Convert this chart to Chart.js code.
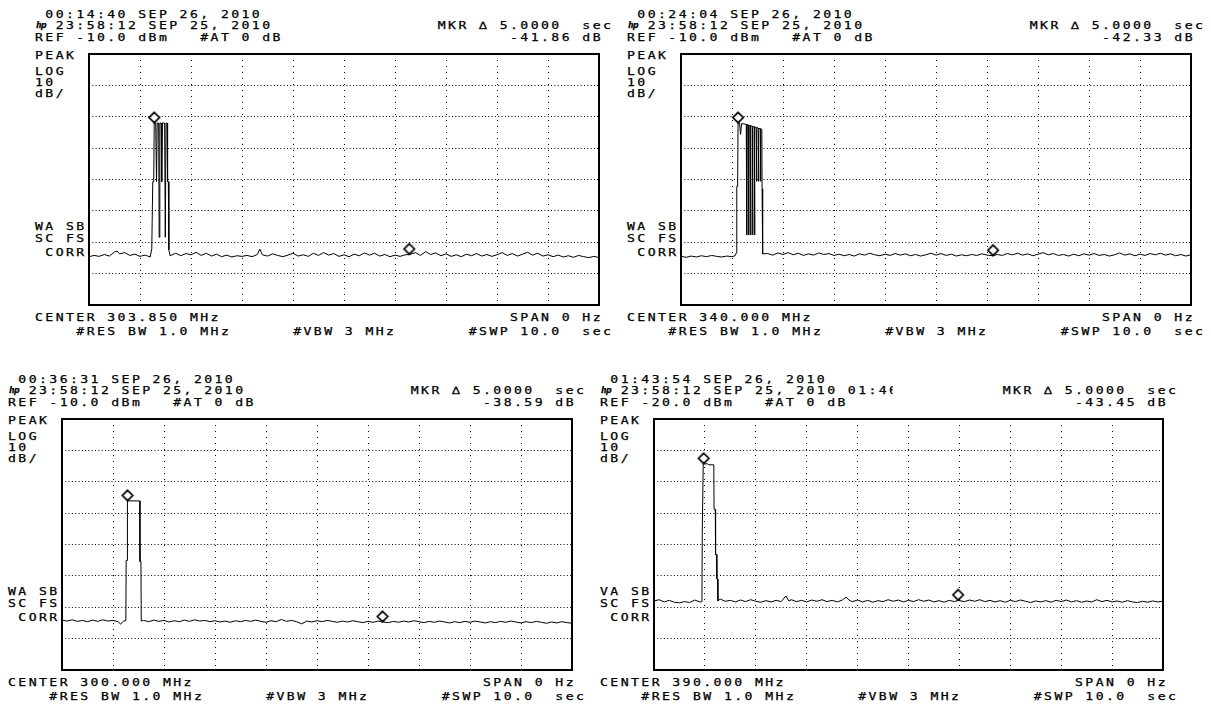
<!DOCTYPE html>
<html>
<head>
<meta charset="utf-8">
<script src="https://cdn.jsdelivr.net/npm/chart.js@4.4.1/dist/chart.umd.min.js"></script>
<style>
  html, body { margin: 0; padding: 0; background: #fff; }
  body { width: 1211px; height: 706px; position: relative; overflow: hidden; }
  .txt {
    position: absolute;
    font-family: "DejaVu Sans Mono", monospace;
    font-size: 10.5px;
    line-height: 12px;
    letter-spacing: 1.94px;
    white-space: pre;
    color: #000;
    -webkit-text-stroke: 0.25px #000;
    transform: scaleX(1.25);
    transform-origin: 0 50%;
  }
  .txt.hp { font-style: italic; font-weight: bold; font-size: 8.5px; letter-spacing: -0.5px; transform: scaleX(1.1); }
  canvas { position: absolute; }
</style>
</head>
<body>
<script>
// --- readouts (one entry per screen: top-left, top-right, bottom-left, bottom-right)
const startStamps = ['00:14:40 SEP 26, 2010', '00:24:04 SEP 26, 2010', '00:36:31 SEP 26, 2010', '01:43:54 SEP 26, 2010'];
const refStamp = '23:58:12 SEP 25, 2010';
const refLevels = [-10, -10, -10, -20];          // dBm, top graticule line
const deltaReadouts = ['-41.86', '-42.33', '-38.59', '-43.45'];
const centerFreqs = ['303.850', '340.000', '300.000', '390.000'];
const sideTags = ['WA SB', 'WA SB', 'WA SB', 'VA SB'];

// marker pairs: [marker, delta marker] (sec, dBm)
const markerTimes = [[1.28, 6.28], [1.12, 6.12], [1.285, 6.285], [0.975, 5.975]];
const markerLevels = [[-32.0, -73.9], [-32.0, -74.3], [-36.1, -74.7], [-34.3, -77.8]];

// zero-span traces, [sec, dBm]
const trace1 = [
  [0,-74.6],[0.1,-74.2],[0.2,-74.5],[0.3,-73.9],[0.4,-74.4],[0.5,-73.1],[0.55,-72.8],[0.6,-73.7],[0.7,-73.3],[0.8,-74.2],
  [0.9,-73.8],[1.0,-74.5],[1.1,-74.1],[1.2,-74.7],
  [1.231,-72.1],[1.25,-50.7],[1.269,-50.7],[1.279,-32.0],[1.308,-32.0],[1.324,-50.7],[1.337,-32.0],[1.366,-32.0],
  [1.376,-68.4],[1.389,-32.0],[1.415,-32.0],[1.426,-50.7],[1.44,-32.0],[1.483,-32.0],[1.496,-68.4],[1.51,-32.0],
  [1.531,-32.0],[1.541,-50.7],[1.556,-50.7],[1.566,-72.4],[1.59,-74.3],
  [1.7,-73.5],[1.8,-74.3],[1.9,-73.6],[2.0,-74.0],[2.1,-73.2],[2.2,-74.2],[2.3,-73.5],[2.4,-74.4],[2.5,-73.8],[2.6,-74.6],
  [2.7,-74.1],[2.8,-74.7],[2.9,-74.3],[3.0,-74.5],[3.1,-74.2],[3.2,-74.6],[3.3,-73.9],[3.35,-72.2],[3.4,-74.0],[3.5,-74.4],
  [3.6,-73.7],[3.7,-74.2],[3.8,-74.6],[3.9,-74.1],[4.0,-73.5],[4.1,-74.4],[4.2,-74.0],[4.3,-74.5],[4.4,-73.5],[4.5,-74.2],
  [4.6,-73.3],[4.7,-74.1],[4.8,-73.6],[4.9,-74.5],[5.0,-74.0],[5.1,-74.6],[5.2,-73.8],[5.3,-74.3],[5.4,-73.4],[5.5,-74.1],
  [5.6,-73.5],[5.7,-74.4],[5.8,-73.9],[5.9,-74.6],[6.0,-74.1],[6.1,-74.5],[6.2,-74.0],[6.28,-73.9],[6.4,-73.3],[6.5,-74.2],
  [6.6,-73.0],[6.7,-73.9],[6.8,-73.4],[6.9,-74.3],[7.0,-73.7],[7.1,-74.5],[7.2,-74.0],[7.3,-74.6],[7.4,-73.8],[7.5,-74.3],
  [7.6,-73.6],[7.7,-74.4],[7.8,-73.9],[7.9,-74.5],[8.0,-74.0],[8.1,-73.3],[8.2,-74.2],[8.3,-73.6],[8.4,-74.4],[8.5,-73.8],
  [8.6,-73.2],[8.7,-74.1],[8.8,-73.5],[8.9,-74.4],[9.0,-74.0],[9.1,-74.6],[9.2,-74.1],[9.3,-74.7],[9.4,-74.3],[9.5,-74.8],
  [9.6,-74.2],[9.7,-74.6],[9.8,-74.9],[9.9,-74.5],[10.0,-74.9]
];
const trace2 = [
  [0,-74.5],[0.1,-74.8],[0.2,-74.4],[0.3,-74.7],[0.4,-74.3],[0.5,-74.6],[0.6,-74.2],[0.7,-74.5],[0.8,-74.7],[0.9,-74.4],
  [1.0,-74.6],[1.06,-74.3],
  [1.084,-73.4],[1.094,-52.2],[1.11,-52.2],[1.119,-32.0],[1.148,-32.0],[1.168,-35.6],[1.187,-32.2],[1.28,-32.4],
  [1.288,-67.7],[1.296,-32.5],[1.32,-32.6],[1.327,-67.7],[1.334,-32.7],[1.36,-32.8],[1.366,-67.7],[1.372,-32.9],
  [1.4,-33.0],[1.405,-67.7],[1.41,-33.1],[1.438,-33.2],[1.443,-67.7],[1.448,-33.3],[1.476,-33.4],[1.482,-50.6],
  [1.488,-33.5],[1.515,-33.6],[1.521,-50.6],[1.527,-33.7],[1.555,-33.8],[1.56,-50.6],[1.566,-33.9],[1.585,-34.0],
  [1.59,-53.0],[1.598,-53.0],[1.604,-73.7],
  [1.7,-73.6],[1.8,-74.1],[1.9,-73.4],[2.0,-73.9],[2.1,-73.3],[2.2,-74.0],[2.3,-73.5],[2.4,-74.2],[2.5,-73.7],[2.6,-74.1],
  [2.7,-73.4],[2.8,-73.9],[2.9,-73.6],[3.0,-74.2],[3.1,-73.8],[3.2,-74.3],[3.3,-73.9],[3.4,-74.4],[3.5,-73.7],[3.6,-74.1],
  [3.7,-73.5],[3.8,-74.0],[3.9,-74.3],[4.0,-73.8],[4.1,-74.2],[4.2,-73.6],[4.3,-74.1],[4.4,-73.7],[4.5,-74.3],[4.6,-73.9],
  [4.7,-74.4],[4.8,-74.0],[4.9,-73.5],[5.0,-74.1],[5.1,-73.6],[5.2,-74.2],[5.3,-73.8],[5.4,-74.4],[5.5,-74.0],[5.6,-74.3],
  [5.7,-73.9],[5.8,-74.2],[5.9,-73.7],[6.0,-74.1],[6.12,-74.3],[6.2,-73.9],[6.3,-74.2],[6.4,-73.6],[6.5,-74.0],[6.6,-73.5],
  [6.7,-74.1],[6.8,-73.7],[6.9,-74.3],[7.0,-73.8],[7.1,-73.3],[7.2,-74.0],[7.3,-73.6],[7.4,-74.2],[7.5,-73.9],[7.6,-74.4],
  [7.7,-73.8],[7.8,-74.3],[7.9,-73.7],[8.0,-74.1],[8.1,-73.6],[8.2,-74.2],[8.3,-73.9],[8.4,-74.4],[8.5,-74.0],[8.6,-73.4],
  [8.7,-74.1],[8.8,-73.7],[8.9,-74.3],[9.0,-73.8],[9.1,-74.2],[9.2,-73.6],[9.3,-74.0],[9.4,-73.5],[9.5,-74.1],[9.6,-73.7],
  [9.7,-74.3],[9.8,-73.9],[9.9,-74.4],[10.0,-74.0]
];
const trace3 = [
  [0,-74.1],[0.1,-74.4],[0.2,-74.0],[0.3,-74.5],[0.4,-74.2],[0.5,-74.6],[0.6,-74.1],[0.7,-74.5],[0.8,-74.0],[0.9,-74.4],
  [1.0,-74.2],[1.1,-74.6],[1.15,-75.4],[1.2,-74.5],[1.233,-74.3],
  [1.252,-74.3],[1.258,-55.1],[1.277,-55.1],[1.283,-36.1],[1.523,-36.1],[1.529,-55.4],[1.548,-55.4],[1.554,-74.4],
  [1.6,-74.2],[1.7,-74.6],[1.8,-74.1],[1.9,-74.5],[2.0,-74.2],[2.1,-74.7],[2.2,-74.3],[2.3,-74.6],[2.4,-74.1],[2.5,-74.5],
  [2.6,-74.0],[2.7,-74.4],[2.8,-74.2],[2.9,-74.6],[3.0,-74.3],[3.1,-74.7],[3.2,-74.4],[3.3,-74.8],[3.4,-74.3],[3.5,-74.6],
  [3.6,-74.2],[3.7,-74.5],[3.8,-74.1],[3.9,-74.5],[4.0,-74.8],[4.1,-74.3],[4.2,-74.6],[4.3,-73.9],[4.4,-74.5],[4.5,-74.2],
  [4.6,-74.6],[4.7,-75.3],[4.8,-74.4],[4.9,-74.7],[5.0,-74.3],[5.1,-74.6],[5.2,-74.2],[5.3,-74.5],[5.4,-74.8],[5.5,-74.4],
  [5.6,-74.7],[5.7,-74.3],[5.8,-74.6],[5.9,-74.9],[6.0,-74.5],[6.1,-74.8],[6.2,-74.4],[6.285,-74.7],[6.4,-74.9],[6.5,-74.5],
  [6.6,-74.8],[6.7,-74.4],[6.8,-74.7],[6.9,-74.3],[7.0,-74.6],[7.1,-74.9],[7.2,-74.5],[7.3,-74.8],[7.4,-74.4],[7.5,-74.7],
  [7.6,-75.0],[7.7,-74.6],[7.8,-74.9],[7.9,-74.5],[8.0,-74.8],[8.1,-74.4],[8.2,-74.7],[8.3,-75.0],[8.4,-74.6],[8.5,-74.9],
  [8.6,-74.5],[8.7,-74.8],[8.8,-74.4],[8.9,-74.7],[9.0,-75.0],[9.1,-74.6],[9.2,-74.9],[9.3,-74.5],[9.4,-74.8],[9.5,-75.1],
  [9.6,-74.7],[9.7,-75.0],[9.8,-74.6],[9.9,-74.9],[10.0,-75.1]
];
const trace4 = [
  [0,-78.0],[0.1,-77.6],[0.2,-78.3],[0.3,-77.8],[0.4,-78.4],[0.5,-78.6],[0.6,-78.2],[0.7,-78.5],[0.8,-77.7],[0.9,-78.3],
  [0.932,-78.3],
  [0.942,-78.1],[0.948,-56.7],[0.961,-56.7],[0.967,-34.3],[1.058,-34.3],[1.078,-34.6],[1.175,-34.6],[1.18,-48.8],
  [1.204,-48.8],[1.21,-63.2],[1.229,-63.2],[1.235,-71.0],[1.249,-71.0],[1.256,-78.0],
  [1.3,-77.4],[1.4,-78.1],[1.5,-77.8],[1.6,-78.3],[1.7,-77.7],[1.8,-78.2],[1.9,-77.6],[2.0,-78.1],[2.1,-78.4],[2.2,-77.9],
  [2.3,-78.3],[2.4,-77.8],[2.5,-78.2],[2.59,-76.4],[2.65,-78.0],[2.7,-77.6],[2.8,-78.2],[2.9,-77.8],[3.0,-78.3],[3.1,-77.7],
  [3.2,-78.1],[3.3,-77.6],[3.4,-78.2],[3.5,-77.8],[3.6,-78.3],[3.7,-77.7],[3.77,-76.8],[3.85,-77.9],[3.9,-78.2],[4.0,-77.7],
  [4.1,-78.3],[4.2,-77.8],[4.3,-78.4],[4.4,-77.9],[4.5,-78.2],[4.6,-77.6],[4.7,-78.1],[4.8,-77.7],[4.9,-78.3],[5.0,-77.8],
  [5.1,-78.2],[5.2,-77.6],[5.3,-78.1],[5.4,-77.7],[5.5,-78.3],[5.6,-77.9],[5.7,-78.4],[5.8,-77.8],[5.9,-78.2],[5.975,-77.8],
  [6.1,-78.2],[6.2,-77.7],[6.3,-78.1],[6.4,-77.6],[6.5,-78.2],[6.6,-77.8],[6.7,-78.3],[6.8,-77.9],[6.9,-78.4],[7.0,-77.8],
  [7.1,-78.2],[7.2,-77.7],[7.3,-78.1],[7.4,-78.5],[7.5,-78.0],[7.6,-78.3],[7.7,-77.9],[7.8,-78.4],[7.9,-77.8],[8.0,-78.2],
  [8.1,-77.7],[8.2,-78.3],[8.3,-77.9],[8.4,-78.4],[8.5,-78.0],[8.6,-78.3],[8.7,-77.6],[8.8,-78.2],[8.9,-77.8],[9.0,-78.3],
  [9.1,-78.0],[9.2,-78.4],[9.3,-77.9],[9.4,-78.3],[9.5,-78.5],[9.6,-78.1],[9.7,-78.4],[9.8,-78.0],[9.9,-78.3],[10.0,-78.1]
];
const traces = [trace1, trace2, trace3, trace4];

// --- layout: graticule boxes in page pixels
const boxes = [
  { x: 86,  y: 51,  w: 516, h: 257 },
  { x: 678, y: 51,  w: 516, h: 257 },
  { x: 59,  y: 416, w: 516, h: 257 },
  { x: 651, y: 416, w: 515, h: 257 }
];
const PAD = 3;
const PITCH = 10.33;   // character cell of the analyzer font

function addText(str, x, yMid, cls) {
  const el = document.createElement('div');
  el.className = 'txt' + (cls ? ' ' + cls : '');
  el.textContent = str;
  el.style.left = x + 'px';
  el.style.top = (yMid - 6) + 'px';
  document.body.appendChild(el);
  return el;
}

// diamond marker; its lower tip sits on the data point
const diamond = document.createElement('canvas');
diamond.width = 14;
diamond.height = 26;
(function() {
  const c = diamond.getContext('2d');
  c.beginPath();
  c.moveTo(7, 2.3); c.lineTo(12.2, 7.5); c.lineTo(7, 12.7); c.lineTo(1.8, 7.5); c.closePath();
  c.fillStyle = '#fff';
  c.fill();
  c.lineWidth = 1.7;
  c.strokeStyle = '#000';
  c.stroke();
})();

const framePlugin = {
  id: 'frame',
  afterDraw(chart) {
    const { ctx, chartArea: a } = chart;
    ctx.save();
    ctx.strokeStyle = '#000';
    ctx.lineWidth = 2;
    ctx.strokeRect(a.left, a.top, a.right - a.left, a.bottom - a.top);
    ctx.restore();
  }
};

boxes.forEach((b, i) => {
  const col0 = b.x - 51;
  const T = b.y, B = b.y + b.h;

  // header
  addText(' ' + startStamps[i], col0, T - 37.5);
  addText('hp', col0 + 1, T - 26, 'hp');
  let row2 = '  ' + refStamp + (i === 3 ? ' 01:4' : '');
  addText(row2.padEnd(39) + 'MKR \u2206 5.0000  sec', col0, T - 26);
  if (i === 3) {
    const cut = addText('6', col0 + 28 * PITCH, T - 26);
    cut.style.width = '3px';
    cut.style.overflow = 'hidden';
  }
  const row3 = 'REF ' + refLevels[i].toFixed(1) + ' dBm   #AT 0 dB';
  addText(row3.padEnd(46) + deltaReadouts[i] + ' dB', col0, T - 14.5);

  // left annotations
  addText('PEAK', col0, T + 4);
  addText('LOG', col0, T + 19.7);
  addText('10', col0, T + 30.7);
  addText('dB/', col0, T + 42.3);
  addText(sideTags[i], col0, T + 174.7);
  addText('SC FS', col0, T + 186.7);
  addText(' CORR', col0, T + 200.7);

  // footer
  addText(('CENTER ' + centerFreqs[i] + ' MHz').padEnd(46) + 'SPAN 0 Hz', col0, B + 8.8);
  addText('    #RES BW 1.0 MHz      #VBW 3 MHz'.padEnd(42) + '#SWP 10.0  sec', col0, B + 23.2);

  // graticule + trace
  const canvas = document.createElement('canvas');
  canvas.width = b.w + 2 * PAD;
  canvas.height = b.h + 2 * PAD;
  canvas.style.left = (b.x - PAD) + 'px';
  canvas.style.top = (b.y - PAD) + 'px';
  document.body.appendChild(canvas);

  new Chart(canvas, {
    type: 'line',
    data: {
      datasets: [
        {
          data: traces[i].map(p => ({ x: p[0], y: p[1] })),
          borderColor: '#000',
          borderWidth: 1,
          pointRadius: 0,
          tension: 0
        },
        {
          data: markerTimes[i].map((t, k) => ({ x: t, y: markerLevels[i][k] })),
          showLine: false,
          pointStyle: diamond,
          pointRadius: 5,
          clip: false
        }
      ]
    },
    options: {
      responsive: false,
      animation: false,
      events: [],
      layout: { padding: PAD },
      plugins: { legend: { display: false }, tooltip: { enabled: false } },
      scales: {
        x: {
          type: 'linear', min: 0, max: 10,
          ticks: { display: false, stepSize: 1 },
          grid: { color: '#000', lineWidth: 1, drawTicks: false },
          border: { display: false, dash: [1, 5] }
        },
        y: {
          min: refLevels[i] - 80, max: refLevels[i],
          ticks: { display: false, stepSize: 10 },
          grid: { color: '#000', lineWidth: 1, drawTicks: false },
          border: { display: false, dash: [1, 2.3] }
        }
      }
    },
    plugins: [framePlugin]
  });
});
</script>
</body>
</html>
